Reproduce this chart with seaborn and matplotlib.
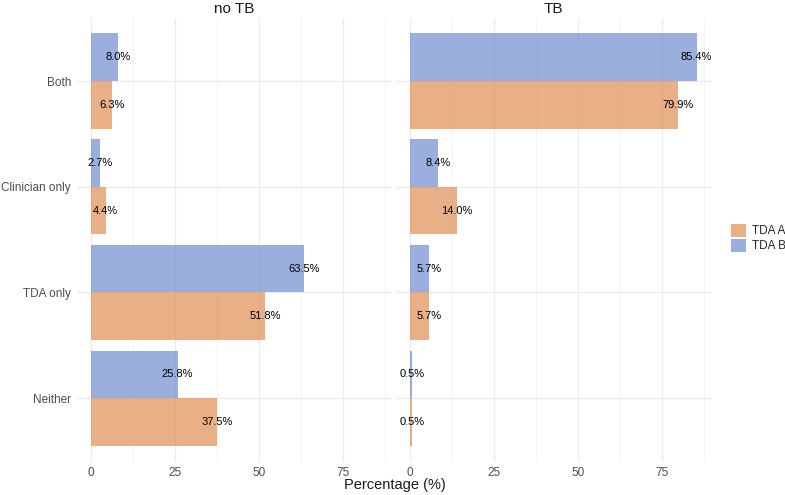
import matplotlib
matplotlib.use("Agg")
import matplotlib.pyplot as plt
import seaborn as sns
import pandas as pd
from matplotlib.patches import Patch
from matplotlib.ticker import MultipleLocator

categories = ["Both", "Clinician only", "TDA only", "Neither"]
facets = ["no TB", "TB"]
tools = ["TDA A", "TDA B"]
noTB_A = [6.3, 4.4, 51.8, 37.5]
noTB_B = [8.0, 2.7, 63.5, 25.8]
TB_A = [79.9, 14.0, 5.7, 0.5]
TB_B = [85.4, 8.4, 5.7, 0.5]

rows = []
for fac, a, b in [("no TB", noTB_A, noTB_B), ("TB", TB_A, TB_B)]:
    for c, va, vb in zip(categories, a, b):
        rows.append((fac, c, "TDA A", va))
        rows.append((fac, c, "TDA B", vb))
df = pd.DataFrame(rows, columns=["facet", "category", "tool", "pct"])

sns.set_theme(style="white")
plt.rcParams['font.family'] = ['Liberation Sans', 'DejaVu Sans']

palette = {"TDA A": "#E08E55", "TDA B": "#718ED0"}
W, H = 785, 495
fig = plt.figure(figsize=(W / 100, H / 100), dpi=100)

xmax = max(df.pct)
xlim = (-0.05 * xmax, 1.05 * xmax)
panels = [(76.6, 392.0), (395.7, 711.0)]
top, bottom = 17.6, 461.6

for i, (fac, (x0, x1)) in enumerate(zip(facets, panels)):
    ax = fig.add_axes([x0 / W, 1 - bottom / H, (x1 - x0) / W, (bottom - top) / H])
    sub = df[df.facet == fac]
    sns.barplot(data=sub, y="category", x="pct", hue="tool", order=categories,
                hue_order=["TDA B", "TDA A"], palette=palette, width=0.9,
                alpha=0.7, orient="h", ax=ax, legend=False, errorbar=None,
                linewidth=0, saturation=1)
    ax.set_xlim(*xlim)
    ax.set_ylim(3.6, -0.6)
    ax.xaxis.set_major_locator(MultipleLocator(25))
    ax.xaxis.set_minor_locator(MultipleLocator(12.5))
    ax.grid(True, which="major", axis="both", color="#EBEBEB", linewidth=0.9, zorder=0)
    ax.grid(True, which="minor", axis="x", color="#F3F3F3", linewidth=0.6, zorder=0)
    ax.set_axisbelow(True)
    for s in ax.spines.values():
        s.set_visible(False)
    ax.tick_params(axis="both", length=0, labelsize=8.5, labelcolor="#4D4D4D", pad=4)
    ax.set_xlabel("")
    ax.set_ylabel("")
    if i == 1:
        ax.set_yticklabels([])
    ax.set_title(fac, fontsize=11, color="#1A1A1A", pad=3)
    for cont in ax.containers:
        for bar in cont:
            w = bar.get_width()
            ax.text(w, bar.get_y() + bar.get_height() / 2, f"{w:.1f}%",
                    ha="center", va="center", fontsize=8, color="black")

fig.text(395 / W, 1 - 485 / H, "Percentage (%)", ha="center", va="center",
         fontsize=10.5, color="#1A1A1A")

handles = [Patch(facecolor=palette[t], alpha=0.7, edgecolor="none", label=t) for t in tools]
fig.legend(handles=handles, loc="center left", bbox_to_anchor=(720 / W, 1 - 238 / H),
           frameon=False, fontsize=8.5, handlelength=1.3, handleheight=1.3,
           handletextpad=0.5, labelspacing=0.15)

fig.savefig("out.png", dpi=100)
